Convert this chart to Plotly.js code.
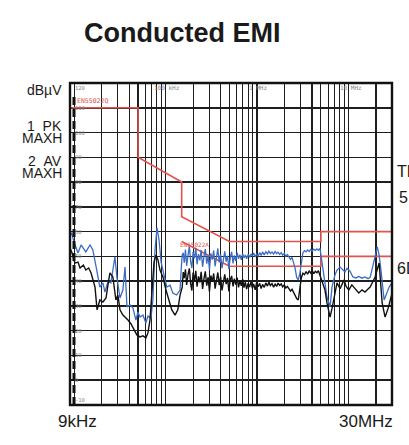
<!DOCTYPE html>
<html>
<head>
<meta charset="utf-8">
<script src="https://cdn.plot.ly/plotly-3.0.1.min.js"></script>
<style>html,body{margin:0;padding:0;background:#fff;}#chart{width:409px;height:445px;}</style>
</head>
<body>
<div id="chart"></div>
<script>
// ---- Data (frequencies in kHz, levels in dBµV) ----
const pkFreqKHz = [9.0,9.4,9.8,10.4,11.0,11.9,12.8,13.4,14.9,16.0,17.4,18.3,19.1,20.6,21.7,23.4,25.2,26.5,27.9,29.4,31.7,34.1,36.0,37.8,40.8,43.9,47.3,49.8,52.5,56.5,60.9,64.1,69.1,72.6,76.6,80.6,84.8,89.3,96.1,103,112,120,132,144,148,152,156,
160,165,170,176,182,188,194,200,207,214,221,229,237,245,254,263,272,282,292,302,313,324,336,348,360,373,386,400,414,429,444,460,476,493,510,528,547,566,586,607,628,650,673,697,
720,745,770,800,830,860,890,920,955,990,1030,1070,1110,1150,1200,1250,1300,1350,1400,1460,1520,1580,1640,1700,1770,1840,1910,1990,2070,2150,2240,2330,2420,2520,2620,2720,2830,2940,3060,3180,3310,3440,3580,3720,3870,4020,4180,4350,4520,4700,4890,
5140,5540,5830,6300,6620,7130,7510,8110,8520,9180,9650,10400,11200,12100,13000,14100,15200,16400,17300,18200,19600,20700,21700,22800,24600,25900,27900,30000];
const pkLevel = [58.2,59.5,56.6,53.8,51.4,54.6,52.6,51.8,54.6,52.6,45.7,41.3,37.6,39.3,35.6,39.7,39.3,44.5,49.8,41.3,33.2,36.4,45.7,29.6,30.4,29.2,24.3,27.5,25.5,26.3,23.1,25.9,25.1,32.4,52.6,61.5,56.6,47.7,42.5,37.6,38.4,35.2,34.4,36.4,44.5,50.6,51.4,
47.5,52.8,46.2,50.5,54.1,48.0,45.3,51.7,49.2,53.5,46.8,50.9,48.4,52.6,45.8,49.9,53.0,47.1,50.3,44.6,51.2,48.7,52.4,46.0,49.5,53.2,47.6,50.8,45.2,49.1,52.0,47.9,50.2,44.8,49.6,51.8,47.2,50.4,48.1,51.5,49.0,50.7,48.6,51.1,
49.4,50.6,49.0,50.8,49.7,51.0,50.1,51.4,49.8,50.9,50.2,51.5,50.4,51.8,50.6,51.9,51.0,52.1,51.2,51.8,50.9,52.0,51.1,51.7,50.8,51.5,50.5,51.2,50.0,50.7,49.5,48.8,49.6,47.5,45.0,41.5,40.5,43.0,48.5,51.5,52.3,51.8,52.6,52.0,52.8,52.2,52.9,52.4,53.0,52.5,53.2,
47.3,39.3,33.6,29.6,37.6,42.5,44.5,45.7,45.0,43.7,45.2,44.0,41.7,41.3,41.9,41.2,41.7,41.0,41.5,44.5,50.0,53.8,50.5,44.0,32.4,34.5,37.6,39.3];

const avFreqKHz = [9.0,9.4,10.2,11.0,11.6,12.6,13.4,14.4,15.3,16.9,17.8,19.1,20.6,22.3,23.4,24.6,26.5,28.6,30.1,31.7,34.1,36.9,38.8,41.9,45.1,48.5,52.5,56.5,60.9,64.1,67.5,71.0,74.7,78.6,82.7,86.8,93.5,101,109,117,127,136,144,152,156,
160,165,170,176,182,188,194,200,207,214,221,229,237,245,254,263,272,282,292,302,313,324,336,348,360,373,386,400,414,429,444,460,476,493,510,528,547,566,586,607,628,650,673,697,
720,745,770,800,830,860,890,920,955,990,1030,1070,1110,1150,1200,1250,1300,1350,1400,1460,1520,1580,1640,1700,1770,1840,1910,1990,2070,2150,2240,2330,2420,2520,2620,2720,2830,2940,3060,3180,3310,3440,3580,3720,3870,4020,4180,4350,4520,4700,4890,
5140,5540,5830,6300,6620,6980,7510,8110,8980,9410,10100,10900,11800,13000,14100,15200,16400,17300,19600,21700,23400,25200,27200,28600,30000];
const avLevel = [53.4,51.8,47.3,47.7,45.3,46.5,44.5,45.3,43.3,37.6,28.4,32.4,31.6,33.2,38.4,43.3,41.7,32.4,34.4,28.4,26.3,25.1,24.3,22.7,20.3,18.3,17.5,17.9,17.1,19.1,24.3,36.4,47.7,50.6,48.5,44.5,41.7,36.4,32.4,28.4,26.3,28.4,34.4,37.6,43.7,
41.2,44.8,38.5,42.6,45.1,39.0,36.2,43.5,40.1,44.2,37.8,41.9,39.5,43.8,36.9,41.0,44.0,38.2,41.6,35.8,42.3,39.7,43.1,37.0,40.6,43.5,38.4,41.8,36.3,40.2,42.7,38.8,41.3,35.9,40.5,42.1,37.9,41.0,38.6,41.4,37.5,40.2,38.1,40.8,
37.4,39.6,36.8,39.2,37.6,39.8,37.1,38.9,36.5,39.4,37.8,39.1,37.0,38.7,37.5,39.3,38.0,39.6,38.2,39.0,37.6,38.8,37.9,39.2,38.3,38.9,37.7,38.5,37.2,37.9,36.8,36.0,36.7,35.2,34.0,33.0,32.4,36.0,41.5,43.2,42.6,43.9,42.8,44.1,43.3,44.3,43.0,44.0,43.4,44.2,42.5,
40.5,36.5,31.2,25.5,29.0,33.6,39.3,37.0,40.5,38.0,36.4,38.5,37.0,35.2,36.5,35.6,36.8,37.6,41.7,47.3,31.2,25.5,29.0,32.4,35.0];

// Limit lines
const qpLimitFreqKHz = [9, 50, 50, 150, 150, 500, 5000, 5000, 30000];
const qpLimitLevel   = [110, 110, 90, 80, 66, 56, 56, 60, 60];
const avLimitFreqKHz = [150, 500, 5000, 5000, 30000];
const avLimitLevel   = [56, 46, 46, 50, 50];

// Axis labels
const yGridLabels = ["120","110","100","90","80","70","60","50","40","30","20","10","0","-10"];
const yGridValues = [120,110,100,90,80,70,60,50,40,30,20,10,0,-10];
const gridDecadesHz = [1e4, 1e5, 1e6, 1e7];
const gridMultipliers = [1,2,3,4,5,6,7,8,9];
const topFreqLabels = ["100 kHz","1 MHz","10 MHz"];

// ---- Build ----
const toHz = a => a.map(v => v * 1000);
const gridVals = [];
gridDecadesHz.forEach(d => gridMultipliers.forEach(m => { if (d*m <= 3e7) gridVals.push(d*m); }));

const traces = [
  {x: toHz(qpLimitFreqKHz), y: qpLimitLevel, mode:'lines', line:{color:'#e4524c', width:1.6}, hoverinfo:'skip'},
  {x: toHz(avLimitFreqKHz), y: avLimitLevel, mode:'lines', line:{color:'#e4524c', width:1.6}, hoverinfo:'skip'},
  {x: toHz(pkFreqKHz), y: pkLevel, mode:'lines', line:{color:'#3b6cc2', width:1.3}},
  {x: toHz(avFreqKHz), y: avLevel, mode:'lines', line:{color:'#111111', width:1.4}}
];

const L = 70, R = 392, T = 83, B = 405;
const px = v => (v - L) / (R - L);
const py = v => (B - v) / (B - T);
const font = 'Liberation Sans, Arial, sans-serif';
const mono = 'DejaVu Sans Mono, monospace';

const ann = [];
ann.push({text:'<b>Conducted EMI</b>', xref:'paper', yref:'paper', x:px(182), y:py(33), xanchor:'center', yanchor:'middle', showarrow:false, font:{family:font, size:27, color:'#1a1a1a'}});
const leftLbl = [['dBµV',90],['1\u00a0\u00a0PK',126],['MAXH',138],['2\u00a0\u00a0AV',161],['MAXH',173]];
leftLbl.forEach(([t,y]) => ann.push({text:t, xref:'paper', yref:'paper', x:px(64), y:py(y), xanchor:'right', yanchor:'middle', showarrow:false, font:{family:font, size:14, color:'#1a1a1a'}}));
ann.push({text:'9kHz', xref:'paper', yref:'paper', x:px(77), y:py(421), xanchor:'center', yanchor:'middle', showarrow:false, font:{family:font, size:17, color:'#1a1a1a'}});
ann.push({text:'30MHz', xref:'paper', yref:'paper', x:px(395), y:py(421), xanchor:'right', yanchor:'middle', showarrow:false, font:{family:font, size:17, color:'#1a1a1a'}});
[['TDF',395,171],['5',397,197],['6D',395,268]].forEach(([t,x,y]) => ann.push({text:t, xref:'paper', yref:'paper', x:px(x), y:py(y), xanchor:'left', yanchor:'middle', showarrow:false, font:{family:font, size:16, color:'#1a1a1a'}}));
const topX = [152, 247, 338];
topFreqLabels.forEach((t,i) => ann.push({text:t, xref:'paper', yref:'paper', x:px(topX[i]), y:py(88), xanchor:'left', yanchor:'middle', showarrow:false, font:{family:mono, size:6, color:'#888'}}));
yGridLabels.forEach((t,i) => ann.push({text:t, xref:'paper', yref:'y', x:px(73), y: yGridValues[i] === 120 ? 118 : (yGridValues[i] === -10 ? -8 : yGridValues[i]), xanchor:'left', yanchor:'middle', showarrow:false, font:{family:mono, size:5.5, color:'#888'}}));
ann.push({text:'EN55022Q', xref:'paper', yref:'paper', x:px(75), y:py(101), xanchor:'left', yanchor:'middle', showarrow:false, font:{family:mono, size:6.5, color:'#e4524c'}});
ann.push({text:'EN55022A', xref:'paper', yref:'paper', x:px(178), y:py(244), xanchor:'left', yanchor:'middle', showarrow:false, font:{family:mono, size:6, color:'#e4524c'}});

const shapes = [
  {type:'line', xref:'paper', yref:'paper', x0:px(74), x1:px(74), y0:0, y1:py(96), line:{color:'#111', width:3, dash:'8px,4px'}},
  {type:'rect', xref:'paper', yref:'paper', x0:0, x1:1, y0:0, y1:1, line:{color:'#111', width:2.4}}
];

const layout = {
  width:409, height:445,
  margin:{l:L, r:409-R, t:T, b:445-B, pad:0},
  paper_bgcolor:'#fff', plot_bgcolor:'#fff',
  showlegend:false,
  xaxis:{type:'log', range:[Math.log10(9000), Math.log10(3e7)], tickvals:gridVals, showticklabels:false, ticks:'', showgrid:true, gridcolor:'#1e1e1e', gridwidth:1.2, zeroline:false, showline:false, fixedrange:true},
  yaxis:{range:[-10,120], tickvals:yGridValues, showticklabels:false, ticks:'', showgrid:true, gridcolor:'#1e1e1e', gridwidth:1.5, zeroline:false, showline:false, fixedrange:true},
  annotations: ann,
  shapes: shapes
};
Plotly.newPlot('chart', traces, layout, {staticPlot:true, displayModeBar:false});
</script>
</body>
</html>
